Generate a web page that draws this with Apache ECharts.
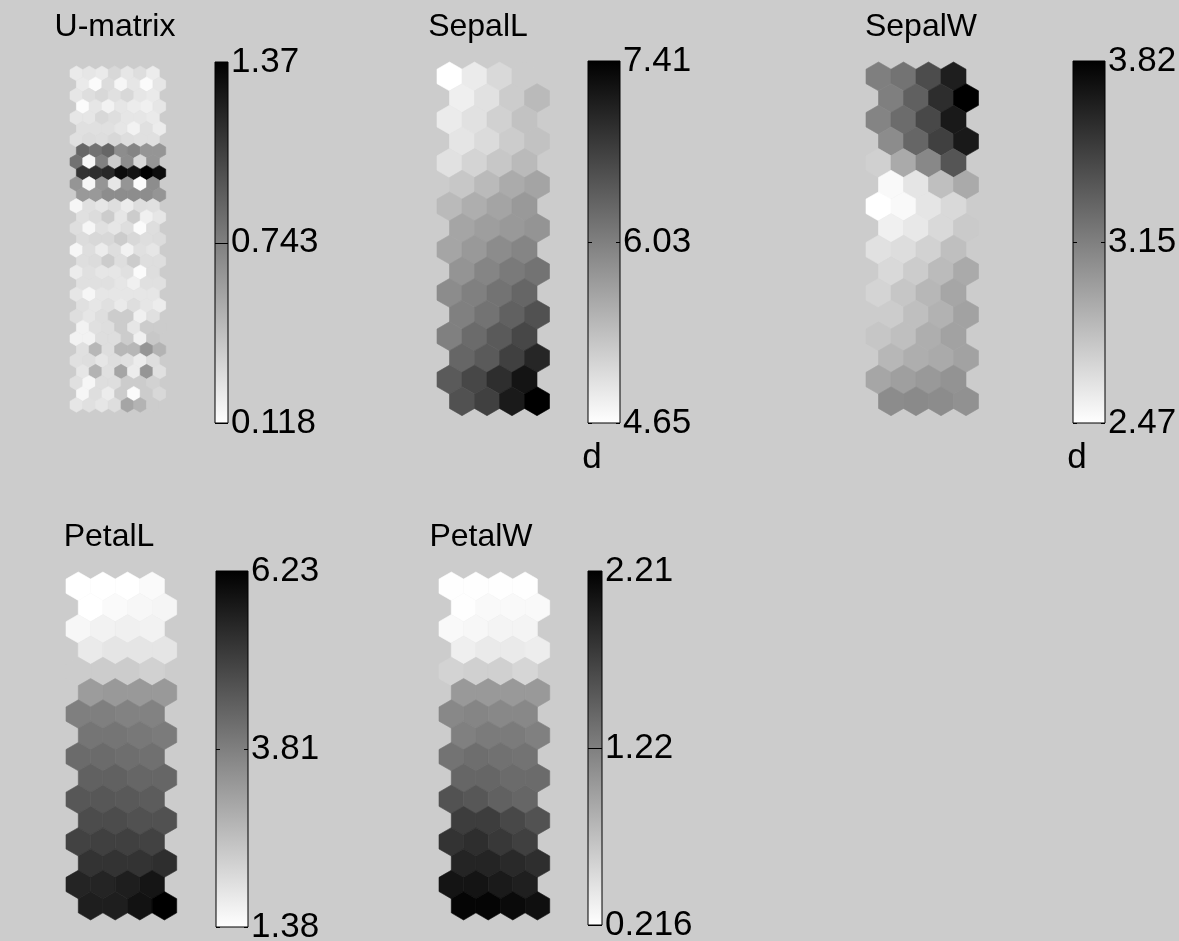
<!DOCTYPE html>
<html>
<head>
<meta charset="utf-8">
<style>
html,body{margin:0;padding:0;background:#cccccc;}
#main{width:1179px;height:941px;}
</style>
<script src="https://cdn.jsdelivr.net/npm/echarts@6/dist/echarts.min.js"></script>
</head>
<body>
<div id="main"></div>
<script>
// U-matrix of the 16x4 map, 31 rows x 7 columns
var umat = [
  [0.22,0.24,0.22,0.31,0.24,0.28,0.21],
  [0.22,0.14,0.29,0.16,0.24,0.14,0.24],
  [0.24,0.28,0.31,0.27,0.31,0.24,0.22],
  [0.14,0.24,0.18,0.24,0.21,0.19,0.24],
  [0.24,0.24,0.31,0.28,0.24,0.24,0.22],
  [0.27,0.27,0.27,0.24,0.18,0.27,0.21],
  [0.27,0.29,0.28,0.31,0.28,0.27,0.27],
  [0.87,0.81,0.87,0.68,0.72,0.64,0.64],
  [0.81,0.16,0.74,0.37,0.68,0.31,0.64],
  [1.12,1.15,1.18,1.31,1.27,1.37,1.31],
  [0.64,0.16,0.64,0.24,0.64,0.14,0.68],
  [0.62,0.62,0.68,0.68,0.68,0.68,0.64],
  [0.16,0.27,0.24,0.28,0.21,0.28,0.27],
  [0.27,0.29,0.37,0.24,0.37,0.19,0.24],
  [0.28,0.16,0.27,0.24,0.28,0.14,0.28],
  [0.29,0.31,0.31,0.37,0.31,0.28,0.29],
  [0.16,0.28,0.21,0.28,0.18,0.27,0.24],
  [0.28,0.29,0.37,0.28,0.37,0.28,0.28],
  [0.21,0.27,0.24,0.24,0.27,0.14,0.28],
  [0.27,0.27,0.27,0.24,0.19,0.27,0.27],
  [0.24,0.16,0.24,0.24,0.24,0.24,0.24],
  [0.27,0.24,0.27,0.22,0.28,0.24,0.21],
  [0.28,0.24,0.28,0.37,0.37,0.19,0.27],
  [0.18,0.27,0.28,0.37,0.24,0.37,0.37],
  [0.18,0.18,0.28,0.28,0.37,0.19,0.39],
  [0.27,0.47,0.28,0.47,0.47,0.64,0.49],
  [0.27,0.28,0.24,0.28,0.27,0.21,0.28],
  [0.24,0.49,0.27,0.56,0.21,0.64,0.27],
  [0.27,0.16,0.28,0.28,0.37,0.37,0.34],
  [0.16,0.28,0.21,0.37,0.14,0.37,0.31],
  [0.24,0.27,0.24,0.28,0.56,0.49,0.37]
];

// component planes, 16 rows x 4 columns
var sepalL = [
  [4.65,4.87,5.06,5.20],
  [4.82,4.98,5.20,5.40],
  [4.87,4.98,5.15,5.31],
  [4.93,5.04,5.20,5.31],
  [4.98,5.12,5.26,5.40],
  [5.26,5.40,5.56,5.64],
  [5.40,5.53,5.64,5.75],
  [5.62,5.70,5.75,5.81],
  [5.62,5.75,5.89,5.97],
  [5.81,5.97,6.09,6.17],
  [5.89,6.03,6.17,6.31],
  [6.03,6.17,6.36,6.53],
  [6.03,6.25,6.44,6.64],
  [6.31,6.44,6.72,7.00],
  [6.44,6.64,6.91,7.19],
  [6.53,6.72,7.13,7.41]
];
var sepalW = [
  [3.15,3.21,3.42,3.66],
  [3.15,3.31,3.58,3.82],
  [3.12,3.25,3.44,3.69],
  [3.08,3.28,3.48,3.69],
  [2.72,2.92,3.10,3.37],
  [2.50,2.61,2.81,2.92],
  [2.47,2.50,2.61,2.67],
  [2.55,2.59,2.67,2.75],
  [2.63,2.65,2.71,2.81],
  [2.67,2.74,2.83,2.92],
  [2.70,2.77,2.85,2.94],
  [2.74,2.81,2.88,2.96],
  [2.77,2.81,2.90,2.96],
  [2.85,2.90,2.92,2.96],
  [2.94,2.98,3.01,3.04],
  [3.08,3.09,3.08,3.05]
];
var petalL = [
  [1.38,1.38,1.38,1.48],
  [1.38,1.48,1.53,1.57],
  [1.53,1.62,1.67,1.62],
  [1.77,1.87,1.87,1.87],
  [2.35,2.35,2.35,2.25],
  [3.27,3.32,3.32,3.32],
  [3.81,3.81,3.76,3.76],
  [4.00,4.00,3.95,3.90],
  [4.19,4.19,4.14,4.10],
  [4.39,4.39,4.29,4.29],
  [4.58,4.58,4.53,4.48],
  [4.78,4.78,4.68,4.68],
  [4.97,5.02,5.02,4.97],
  [5.26,5.26,5.26,5.36],
  [5.55,5.55,5.65,5.84],
  [5.65,5.65,5.89,6.23]
];
var petalW = [
  [0.22,0.22,0.22,0.22],
  [0.22,0.26,0.26,0.26],
  [0.26,0.28,0.30,0.30],
  [0.34,0.38,0.38,0.36],
  [0.56,0.58,0.58,0.54],
  [1.01,1.01,1.01,1.01],
  [1.15,1.17,1.15,1.15],
  [1.21,1.25,1.25,1.21],
  [1.31,1.35,1.33,1.31],
  [1.41,1.41,1.37,1.37],
  [1.57,1.53,1.45,1.41],
  [1.73,1.73,1.65,1.57],
  [1.81,1.85,1.77,1.71],
  [1.93,1.93,1.89,1.85],
  [2.05,2.05,2.01,1.97],
  [2.17,2.17,2.13,2.09]
];

var planeNames = ['U-matrix', 'SepalL', 'SepalW', 'PetalL', 'PetalW'];
var planeData = [umat, sepalL, sepalW, petalL, petalW];
var planeMin = [0.118, 4.65, 2.47, 1.38, 0.216];
var planeMax = [1.37, 7.41, 3.82, 6.23, 2.21];
// colorbar tick labels, bottom / middle / top
var umatTicks = ['0.118', '0.743', '1.37'];
var sepalLTicks = ['4.65', '6.03', '7.41'];
var sepalWTicks = ['2.47', '3.15', '3.82'];
var petalLTicks = ['1.38', '3.81', '6.23'];
var petalWTicks = ['0.216', '1.22', '2.21'];
var barTicks = [umatTicks, sepalLTicks, sepalWTicks, petalLTicks, petalWTicks];
var barUnits = ['', 'd', 'd', '', ''];

// layout in pixels
var planeBox = [[70, 66, 12.76], [437, 62, 25], [866, 62, 25], [66, 572, 24.6], [439, 572, 24.6]];
var barBox = [[215, 62, 13, 361], [588, 61, 32, 362], [1073, 61, 32, 362], [216, 571, 32, 356], [588, 571, 14, 354]];
var titlePos = [[115, 27], [478, 27], [921, 27], [109, 537], [481, 537]];

var FONT = '"Liberation Sans", Arial, sans-serif';
var H = Math.sqrt(0.75);
var R = 1 / Math.sqrt(3);

var chart = echarts.init(document.getElementById('main'));

function hexItem(params, api) {
  var x = api.value(0), y = api.value(1);
  var pts = [];
  for (var k = 0; k < 6; k++) {
    var a = Math.PI / 6 + k * Math.PI / 3;
    pts.push(api.coord([x + R * Math.cos(a), y + R * Math.sin(a)]));
  }
  var c = api.visual('color');
  return {type: 'polygon', shape: {points: pts}, style: {fill: c, stroke: c, lineWidth: 0.6}};
}

// colorbar: gradient box plus inward ticks at bottom, middle and top
function barItem(params, api) {
  var p0 = api.coord([0, 2]);
  var p1 = api.coord([1, 0]);
  var w = p1[0] - p0[0];
  var tl = w < 20 ? 7 : 4;
  var kids = [{
    type: 'rect',
    shape: {x: p0[0], y: p0[1], width: w, height: p1[1] - p0[1]},
    style: {
      fill: new echarts.graphic.LinearGradient(0, 0, 0, 1, [
        {offset: 0, color: '#000000'},
        {offset: 1, color: '#ffffff'}
      ]),
      stroke: '#000', lineWidth: 1
    }
  }];
  [0, 1, 2].forEach(function (t) {
    var y = Math.round(api.coord([0, t])[1]) + 0.5;
    kids.push({type: 'line', shape: {x1: p0[0], y1: y, x2: p0[0] + tl, y2: y}, style: {stroke: '#000', lineWidth: 1}});
    kids.push({type: 'line', shape: {x1: p1[0] - tl, y1: y, x2: p1[0], y2: y}, style: {stroke: '#000', lineWidth: 1}});
  });
  return {type: 'group', children: kids};
}

var grids = [], xAxes = [], yAxes = [], series = [], visualMaps = [], graphics = [];

planeData.forEach(function (rows, i) {
  var nr = rows.length, nc = rows[0].length;
  var b = planeBox[i], s = b[2];
  var data = [];
  rows.forEach(function (row, r) {
    row.forEach(function (v, c) {
      data.push([c + (r % 2) * 0.5, r * H, v]);
    });
  });

  // hex plane grid
  grids.push({left: b[0], top: b[1], width: (nc + 0.5) * s, height: ((nr - 1) * H + 2 * R) * s,
    show: false, outerBoundsMode: 'none'});
  var g = grids.length - 1;
  xAxes.push({gridIndex: g, type: 'value', min: -0.5, max: nc, show: false});
  yAxes.push({gridIndex: g, type: 'value', min: -R, max: (nr - 1) * H + R, inverse: true, show: false});
  series.push({type: 'custom', name: planeNames[i], xAxisIndex: xAxes.length - 1, yAxisIndex: yAxes.length - 1,
    renderItem: hexItem, data: data, silent: true, animation: false});
  visualMaps.push({type: 'continuous', show: false, seriesIndex: series.length - 1, dimension: 2,
    min: planeMin[i], max: planeMax[i], inRange: {color: ['#ffffff', '#000000']}});

  // colorbar grid, labels on the right axis
  var cb = barBox[i];
  grids.push({left: cb[0], top: cb[1], width: cb[2], height: cb[3], show: false, outerBoundsMode: 'none'});
  g = grids.length - 1;
  xAxes.push({gridIndex: g, type: 'value', min: 0, max: 1, show: false});
  var ticks = barTicks[i];
  yAxes.push({gridIndex: g, type: 'value', min: 0, max: 2, interval: 1, position: 'right',
    axisLine: {show: false}, splitLine: {show: false}, axisTick: {show: false},
    axisLabel: {show: true, margin: 3, color: '#000', fontSize: 35, fontFamily: FONT,
      showMinLabel: true, showMaxLabel: true,
      formatter: function (v) { return ticks[Math.round(v)]; }}});
  series.push({type: 'custom', xAxisIndex: xAxes.length - 1, yAxisIndex: yAxes.length - 1,
    renderItem: barItem, data: [[0, 0]], silent: true, animation: false, z: 2});

  graphics.push({type: 'text', x: titlePos[i][0], y: titlePos[i][1],
    style: {text: planeNames[i], fill: '#000', fontSize: 32, fontFamily: FONT, align: 'center', verticalAlign: 'middle'}});
  if (barUnits[i]) {
    graphics.push({type: 'text', x: cb[0] + 4, y: cb[1] + cb[3] + 35,
      style: {text: barUnits[i], fill: '#000', fontSize: 35, fontFamily: FONT, align: 'center', verticalAlign: 'middle'}});
  }
});

chart.setOption({
  backgroundColor: '#cccccc',
  animation: false,
  grid: grids,
  xAxis: xAxes,
  yAxis: yAxes,
  visualMap: visualMaps,
  series: series,
  graphic: graphics
});
</script>
</body>
</html>
